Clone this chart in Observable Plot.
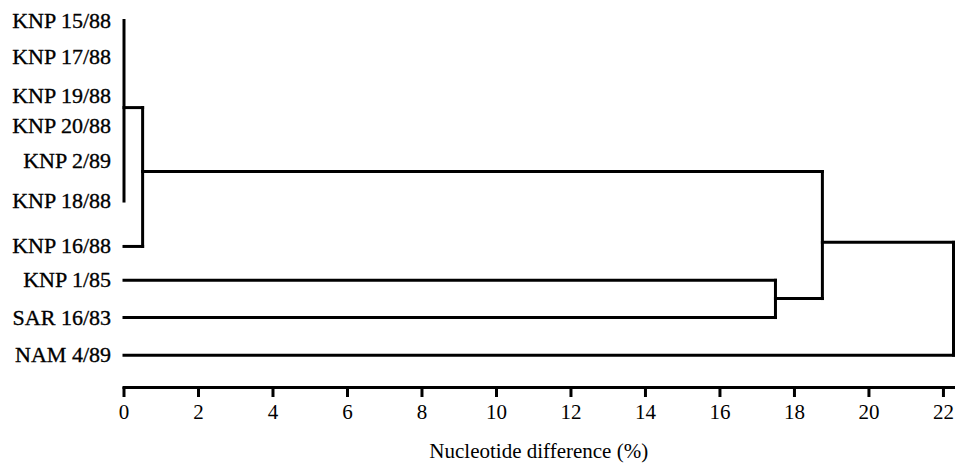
<!DOCTYPE html>
<html>
<head>
<meta charset="utf-8">
<script src="https://cdn.jsdelivr.net/npm/d3@7"></script>
<script src="https://cdn.jsdelivr.net/npm/@observablehq/plot@0.6"></script>
<style>
  html, body { margin: 0; padding: 0; background: #fff; }
</style>
</head>
<body>
<div id="chart"></div>
<script>
// Leaves (top to bottom) and their vertical row positions
const leafNames = ["KNP 15/88", "KNP 17/88", "KNP 19/88", "KNP 20/88", "KNP 2/89",
                   "KNP 18/88", "KNP 16/88", "KNP 1/85", "SAR 16/83", "NAM 4/89"];
const leafRows = [0, 0.99, 2.02, 2.82, 3.76, 4.85, 6.07, 6.98, 7.98, 8.99];

// Internal nodes: name, joining height (nucleotide difference %), children, row where it attaches
const nodeNames = ["A", "B", "C", "D", "root"];
const nodeHeights = [0, 0.5, 17.49, 18.75, 22.27];
const nodeChildren = [
  ["KNP 15/88", "KNP 17/88", "KNP 19/88", "KNP 20/88", "KNP 2/89", "KNP 18/88"],
  ["A", "KNP 16/88"],
  ["KNP 1/85", "SAR 16/83"],
  ["B", "C"],
  ["D", "NAM 4/89"]
];
const nodeRows = [2.34, 4.06, 7.47, 5.96, 7.5];

const xTicks = [0, 2, 4, 6, 8, 10, 12, 14, 16, 18, 20, 22];
const xLabel = "Nucleotide difference (%)";

// Build lookup of heights and rows
const height = new Map(), row = new Map();
leafNames.forEach((n, i) => { height.set(n, 0); row.set(n, leafRows[i]); });
nodeNames.forEach((n, i) => { height.set(n, nodeHeights[i]); row.set(n, nodeRows[i]); });

const segments = [];
nodeNames.forEach((n, i) => {
  const h = nodeHeights[i];
  const kids = nodeChildren[i];
  const rs = kids.map(k => row.get(k));
  segments.push({x1: h, x2: h, y1: d3.min(rs), y2: d3.max(rs)});
  kids.forEach(k => {
    if (h > height.get(k)) segments.push({x1: height.get(k), x2: h, y1: row.get(k), y2: row.get(k)});
  });
});

const leaves = leafNames.map((n, i) => ({name: n, row: leafRows[i]}));

const chart = Plot.plot({
  width: 956,
  height: 467,
  marginLeft: 123.5,
  marginRight: 3,
  marginTop: 10,
  marginBottom: 80,
  style: {fontFamily: "'Liberation Serif', 'Times New Roman', serif", background: "#fff", color: "#000"},
  x: {domain: [0, d3.max(nodeHeights)]},
  y: {domain: [0, 9], range: [20, 355], axis: null},
  marks: [
    Plot.link(segments, {x1: "x1", y1: "y1", x2: "x2", y2: "y2", stroke: "#000", strokeWidth: 3, strokeLinecap: "square"}),
    Plot.text(leaves, {x: () => 0, y: "row", text: "name", textAnchor: "end", dx: -13, fontSize: 22,
      fill: "#000", stroke: "#000", strokeWidth: 0.35}),
    Plot.frame({anchor: "bottom", stroke: "#000", strokeWidth: 3}),
    Plot.axisX({ticks: xTicks, tickSize: 10, tickPadding: 7, strokeWidth: 3, fontSize: 21,
      label: xLabel, labelAnchor: "center", labelArrow: "none", labelOffset: 70, tickFormat: d => String(d)})
  ]
});
document.getElementById("chart").appendChild(chart);
</script>
</body>
</html>
